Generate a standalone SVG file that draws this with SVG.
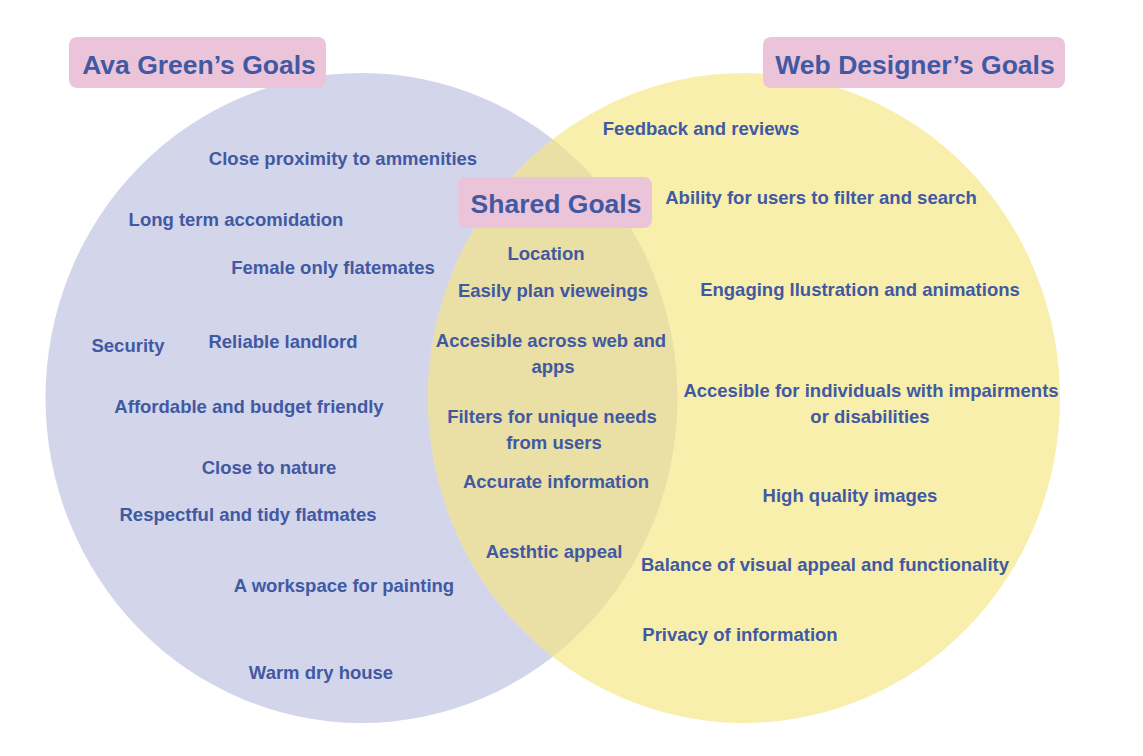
<svg xmlns="http://www.w3.org/2000/svg" width="1143" height="756" viewBox="0 0 1143 756">
  <style>
    .item { font-family: "Liberation Sans", Arial, sans-serif; font-weight: 700; font-size: 18.5px; fill: #4159a2; text-anchor: middle; }
    .title { font-family: "Liberation Sans", Arial, sans-serif; font-weight: 700; font-size: 26.5px; fill: #4159a2; text-anchor: middle; }
    .tag { fill: #ecc4da; }
  </style>
  <defs>
    <clipPath id="clip-left">
      <ellipse cx="361.5" cy="398" rx="316" ry="325"/>
    </clipPath>
  </defs>
  <rect width="1143" height="756" fill="#ffffff"/>

  <!-- sets -->
  <g id="set-ava">
    <ellipse cx="361.5" cy="398" rx="316" ry="325" fill="#d3d5ea"/>
  </g>
  <g id="set-designer">
    <ellipse cx="744" cy="398" rx="316" ry="325" fill="#f8efad"/>
  </g>
  <g id="set-shared">
    <ellipse cx="744" cy="398" rx="316" ry="325" fill="#eadfa5" clip-path="url(#clip-left)"/>
  </g>

  <!-- set titles -->
  <g id="title-ava">
    <rect class="tag" x="69" y="37" width="257" height="51" rx="8"/>
    <text class="title" x="199" y="74">Ava Green’s Goals</text>
  </g>
  <g id="title-designer">
    <rect class="tag" x="763" y="37" width="302" height="51" rx="8"/>
    <text class="title" x="915" y="74">Web Designer’s Goals</text>
  </g>
  <g id="title-shared">
    <rect class="tag" x="458" y="177" width="194" height="51" rx="8"/>
    <text class="title" x="556" y="213">Shared Goals</text>
  </g>

  <!-- Ava Green's goals -->
  <g id="ava-items">
    <text class="item" x="343" y="165">Close proximity to ammenities</text>
    <text class="item" x="236" y="226">Long term accomidation</text>
    <text class="item" x="333" y="274">Female only flatemates</text>
    <text class="item" x="128" y="352">Security</text>
    <text class="item" x="283" y="348">Reliable landlord</text>
    <text class="item" x="249" y="413">Affordable and budget friendly</text>
    <text class="item" x="269" y="474">Close to nature</text>
    <text class="item" x="248" y="521">Respectful and tidy flatmates</text>
    <text class="item" x="344" y="592">A workspace for painting</text>
    <text class="item" x="321" y="679">Warm dry house</text>
  </g>

  <!-- shared goals -->
  <g id="shared-items">
    <text class="item" x="546" y="260">Location</text>
    <text class="item" x="553" y="297">Easily plan vieweings</text>
    <text class="item" x="551" y="347">Accesible across web and</text>
    <text class="item" x="553" y="373">apps</text>
    <text class="item" x="552" y="423">Filters for unique needs</text>
    <text class="item" x="554" y="449">from users</text>
    <text class="item" x="556" y="488">Accurate information</text>
    <text class="item" x="554" y="558">Aesthtic appeal</text>
  </g>

  <!-- web designer's goals -->
  <g id="designer-items">
    <text class="item" x="701" y="135">Feedback and reviews</text>
    <text class="item" x="821" y="204">Ability for users to filter and search</text>
    <text class="item" x="860" y="296">Engaging llustration and animations</text>
    <text class="item" x="871" y="397">Accesible for individuals with impairments</text>
    <text class="item" x="870" y="423">or disabilities</text>
    <text class="item" x="850" y="502">High quality images</text>
    <text class="item" x="825" y="571">Balance of visual appeal and functionality</text>
    <text class="item" x="740" y="641">Privacy of information</text>
  </g>
</svg>
